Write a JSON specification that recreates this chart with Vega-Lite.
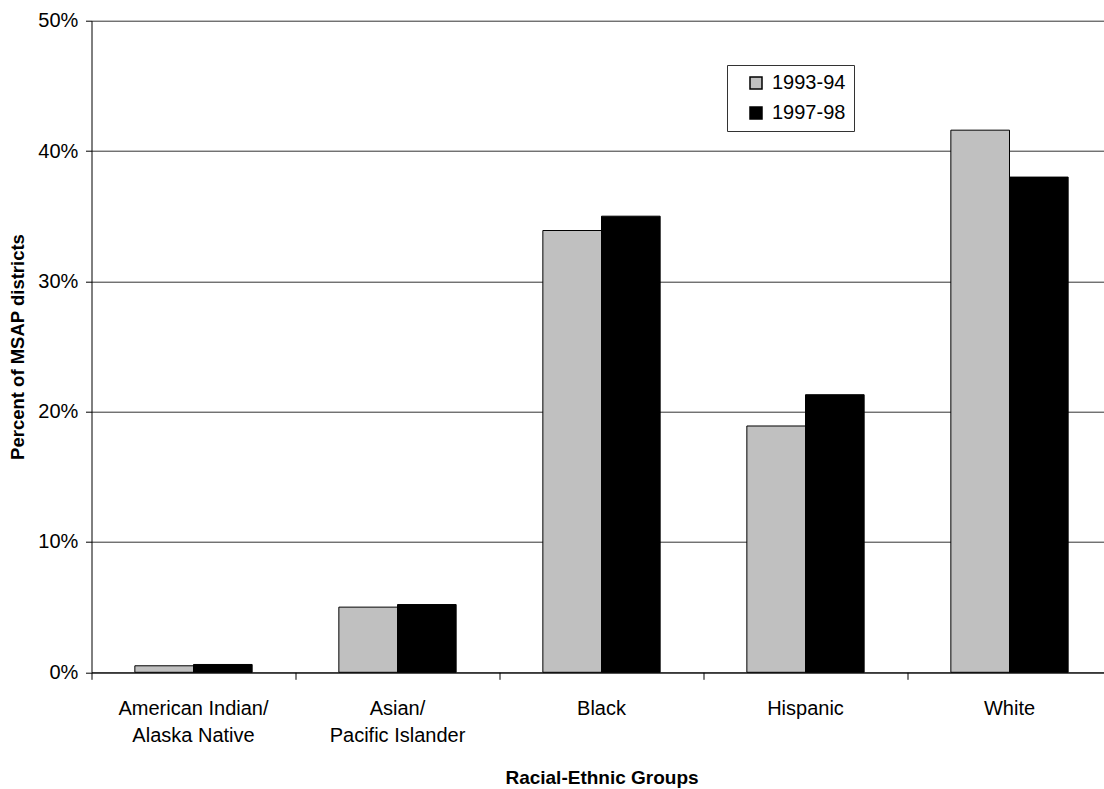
{
  "$schema": "https://vega.github.io/schema/vega-lite/v6.json",
  "width": 1020,
  "height": 651.6,
  "autosize": {"type": "none"},
  "padding": {"left": 91.5, "top": 20.7, "right": -7.5, "bottom": 116.7},
  "background": "white",
  "config": {
    "font": "Liberation Sans",
    "view": {"stroke": null}
  },
  "data": {
    "values": [
      {"group": "American Indian/Alaska Native", "year": "1993-94", "pct": 0.5},
      {"group": "American Indian/Alaska Native", "year": "1997-98", "pct": 0.6},
      {"group": "Asian/Pacific Islander", "year": "1993-94", "pct": 5.0},
      {"group": "Asian/Pacific Islander", "year": "1997-98", "pct": 5.2},
      {"group": "Black", "year": "1993-94", "pct": 33.9},
      {"group": "Black", "year": "1997-98", "pct": 35.0},
      {"group": "Hispanic", "year": "1993-94", "pct": 18.9},
      {"group": "Hispanic", "year": "1997-98", "pct": 21.3},
      {"group": "White", "year": "1993-94", "pct": 41.6},
      {"group": "White", "year": "1997-98", "pct": 38.0}
    ]
  },
  "mark": {"type": "bar", "stroke": "#000000"},
  "encoding": {
    "x": {
      "field": "group",
      "type": "nominal",
      "sort": null,
      "scale": {"paddingInner": 0, "paddingOuter": 0},
      "axis": {
        "title": "Racial-Ethnic Groups",
        "titleFontSize": 19,
        "titleFontWeight": "bold",
        "titleColor": "#000",
        "titlePadding": 23,
        "bandPosition": 0,
        "labelAngle": 0,
        "labelFontSize": 20,
        "labelColor": "#000",
        "labelPadding": 19,
        "labelLineHeight": 27.5,
        "labelOverlap": false,
        "labelBound": false,
        "labelLimit": 300,
        "labelExpr": "datum.label == 'American Indian/Alaska Native' ? ['American Indian/', 'Alaska Native'] : datum.label == 'Asian/Pacific Islander' ? ['Asian/', 'Pacific Islander'] : datum.label",
        "tickSize": 7,
        "tickColor": "#000",
        "domainColor": "#000",
        "grid": false
      }
    },
    "xOffset": {
      "field": "year",
      "type": "nominal",
      "scale": {"paddingInner": 0, "paddingOuter": 0.739}
    },
    "y": {
      "field": "pct",
      "type": "quantitative",
      "scale": {"domain": [0, 50], "nice": false},
      "axis": {
        "title": "Percent of MSAP districts",
        "titleFontSize": 18.5,
        "titleFontWeight": "bold",
        "titleColor": "#000",
        "titlePadding": 10,
        "values": [0, 10, 20, 30, 40, 50],
        "labelExpr": "datum.value + '%'",
        "labelFontSize": 20,
        "labelColor": "#000",
        "labelPadding": 7.7,
        "tickSize": 6,
        "tickColor": "#000",
        "domainColor": "#000",
        "grid": true,
        "gridColor": "#333"
      }
    },
    "color": {
      "field": "year",
      "type": "nominal",
      "scale": {"domain": ["1993-94", "1997-98"], "range": ["#C0C0C0", "#000000"]},
      "legend": {
        "title": null,
        "orient": "none",
        "legendX": 635.5,
        "legendY": 44.3,
        "direction": "vertical",
        "symbolType": "square",
        "symbolSize": 144,
        "symbolStrokeColor": "#000",
        "symbolOffset": 11,
        "labelFontSize": 20,
        "labelColor": "#000",
        "labelOffset": 6,
        "rowPadding": 10,
        "padding": 8,
        "fillColor": "white",
        "strokeColor": "#333"
      }
    }
  }
}
